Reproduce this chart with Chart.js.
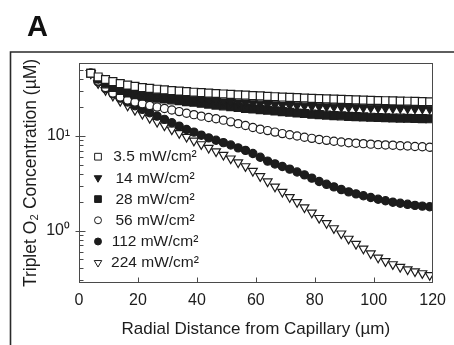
<!DOCTYPE html>
<html>
<head>
<meta charset="utf-8">
<script src="https://cdn.jsdelivr.net/npm/chart.js@4.4.0/dist/chart.umd.min.js"></script>
<style>
  html, body { margin: 0; padding: 0; background: #fff; }
  #wrap { width: 454px; height: 345px; position: relative; }
</style>
</head>
<body>
<div id="wrap"><canvas id="oxygen_profile"></canvas></div>
<script>
// Radial distance (um) of every plotted marker
const radialDistance = [4, 6.5, 9, 11.5, 14, 16.5, 19, 21.5, 24, 26.5, 29, 31.5, 34, 36.5, 39, 41.5,
  44, 46.5, 49, 51.5, 54, 56.5, 59, 61.5, 64, 66.5, 69, 71.5, 74, 76.5, 79, 81.5, 84, 86.5, 89,
  91.5, 94, 96.5, 99, 101.5, 104, 106.5, 109, 111.5, 114, 116.5, 119];

const legendLabels = ['3.5 mW/cm²', '14 mW/cm²', '28 mW/cm²', '56 mW/cm²', '112 mW/cm²', '224 mW/cm²'];

// Triplet O2 concentration (uM), one list per irradiance
const conc_3_5 = [46, 42, 39.5, 37.5, 35.8, 34.5, 33.4, 32.5, 31.8, 31.2, 30.7, 30.2, 29.8, 29.4, 29.0,
  28.7, 28.4, 28.1, 27.8, 27.5, 27.2, 27.0, 26.7, 26.5, 26.2, 26.0, 25.8, 25.6, 25.4, 25.2, 25.0,
  24.8, 24.7, 24.5, 24.4, 24.2, 24.1, 23.9, 23.8, 23.7, 23.6, 23.5, 23.4, 23.3, 23.2, 23.1, 23.0];
const conc_14 = [46, 41, 37.5, 35, 33, 31.3, 30, 28.9, 28, 27.2, 26.5, 25.9, 25.4, 24.9, 24.5,
  24.1, 23.7, 23.4, 23.1, 22.8, 22.5, 22.3, 22.1, 21.9, 21.7, 21.5, 21.3, 21.2, 21.0, 20.9, 20.7,
  20.6, 20.5, 20.4, 20.3, 20.2, 20.1, 20.0, 19.9, 19.85, 19.8, 19.7, 19.65, 19.6, 19.5, 19.45, 19.4];
const conc_28 = [46, 40, 35.5, 32.5, 30.2, 28.5, 27.3, 26.4, 25.7, 25.1, 24.6, 24.1, 23.6, 23.1, 22.7,
  22.2, 21.7, 21.2, 20.8, 20.4, 20.0, 19.6, 19.3, 19.0, 18.7, 18.4, 18.1, 17.8, 17.5, 17.3, 17.0,
  16.8, 16.6, 16.4, 16.3, 16.1, 16.0, 15.9, 15.8, 15.7, 15.6, 15.5, 15.45, 15.4, 15.3, 15.25, 15.2];
const conc_56 = [46, 38, 32.5, 28.5, 25.8, 24, 22.8, 21.9, 21.0, 20.2, 19.5, 18.8, 18.1, 17.4, 16.8,
  16.2, 15.7, 15.2, 14.7, 14.1, 13.5, 12.9, 12.3, 11.8, 11.4, 11.0, 10.6, 10.3, 10.0, 9.7, 9.45,
  9.2, 9.0, 8.8, 8.65, 8.5, 8.4, 8.3, 8.2, 8.1, 8.05, 8.0, 7.9, 7.85, 7.75, 7.7, 7.6];
const conc_112 = [46.0, 37.2, 31.6, 27.9, 25.1, 22.9, 20.9, 19.1, 17.6, 16.2, 15.0, 13.8, 12.7, 11.7, 11.0,
  10.2, 9.55, 9.02, 8.51, 8.04, 7.50, 7.05, 6.53, 5.96, 5.43, 5.07, 4.76, 4.47, 4.17, 3.89, 3.59,
  3.31, 3.09, 2.90, 2.72, 2.57, 2.45, 2.34, 2.24, 2.15, 2.07, 2.00, 1.95, 1.90, 1.85, 1.82, 1.79];
const conc_224 = [46.0, 36.0, 30.5, 26.6, 23.4, 20.9, 18.8, 17.1, 15.5, 14.1, 12.9, 11.7, 10.7, 9.77, 8.91,
  8.17, 7.50, 6.89, 6.31, 5.78, 5.27, 4.79, 4.27, 3.76, 3.31, 2.92, 2.57, 2.26, 2.00, 1.76, 1.55,
  1.36, 1.20, 1.06, 0.933, 0.822, 0.724, 0.646, 0.575, 0.519, 0.476, 0.442, 0.414, 0.391, 0.372, 0.355, 0.340];

// y axis: labelled decades and the small in-between marks
const yMajorTicks = [1, 10];
const yTickText = ['10⁰', '10¹'];
const yMinorTicks = [0.3, 0.4, 0.5, 0.6, 0.7, 0.8, 0.9, 2, 3, 4, 5, 6, 7, 8, 9, 20, 30, 40, 50];

const FONT = "'Liberation Sans', Arial, Helvetica, sans-serif";
const INK = '#1c1c1c';

function pts(ys) {
  return radialDistance.map((x, i) => ({ x: x, y: ys[i] }));
}

function series(label, ys, style, filled, radius, rotation) {
  return {
    label: label,
    data: pts(ys),
    showLine: false,
    pointStyle: style,
    pointRotation: rotation || 0,
    pointRadius: radius,
    pointBorderWidth: 1.2,
    pointBackgroundColor: filled ? INK : '#fff',
    pointBorderColor: INK
  };
}

const panelPlugin = {
  id: 'panelPlugin',
  beforeDraw(chart) {
    const ctx = chart.ctx;
    ctx.save();
    ctx.fillStyle = '#fff';
    ctx.fillRect(0, 0, chart.width, chart.height);
    // panel frame
    ctx.strokeStyle = '#2a2a2a';
    ctx.lineWidth = 1.6;
    ctx.beginPath();
    ctx.moveTo(10.5, chart.height);
    ctx.lineTo(10.5, 52);
    ctx.lineTo(chart.width, 52);
    ctx.stroke();
    // panel letter
    ctx.fillStyle = '#111';
    ctx.font = 'bold 29px ' + FONT;
    ctx.textBaseline = 'alphabetic';
    ctx.fillText('A', 27, 36);
    ctx.restore();
  },
  afterDatasetsDraw(chart) {
    const ctx = chart.ctx;
    const a = chart.chartArea;
    const xs = chart.scales.x, ys = chart.scales.y;
    ctx.save();
    ctx.strokeStyle = '#4a4a4a';
    ctx.lineWidth = 1;
    const L = Math.round(a.left) + 0.5, R = Math.round(a.right) - 0.5;
    const T = Math.round(a.top) + 0.5, B = Math.round(a.bottom) - 0.5;
    ctx.strokeRect(L, T, R - L, B - T);
    ctx.beginPath();
    yMinorTicks.forEach(v => {
      const py = Math.round(ys.getPixelForValue(v)) + 0.5;
      ctx.moveTo(L, py); ctx.lineTo(L + 4, py);
    });
    yMajorTicks.forEach(v => {
      const py = Math.round(ys.getPixelForValue(v)) + 0.5;
      ctx.moveTo(L - 4, py); ctx.lineTo(L + 6, py);
    });
    xs.ticks.forEach(t => {
      if (t.value <= xs.min || t.value >= xs.max) return;
      const px = Math.round(xs.getPixelForValue(t.value)) + 0.5;
      ctx.moveTo(px, B); ctx.lineTo(px, B - 5);
    });
    ctx.stroke();
    ctx.restore();
  },
  afterDraw(chart) {
    // legend inside the plot, lower left
    const ctx = chart.ctx;
    const a = chart.chartArea;
    const draw = Chart.helpers && Chart.helpers.drawPoint;
    ctx.save();
    ctx.font = '15.5px ' + FONT;
    ctx.textBaseline = 'middle';
    ctx.textAlign = 'center';
    chart.data.datasets.forEach((ds, i) => {
      const y = a.top + 93.7 + i * 21.2;
      const mx = a.left + 19;
      ctx.fillStyle = ds.pointBackgroundColor;
      ctx.strokeStyle = ds.pointBorderColor;
      ctx.lineWidth = 1;
      if (draw) {
        draw(ctx, { pointStyle: ds.pointStyle, rotation: ds.pointRotation, radius: ds.pointRadius * 0.85, borderWidth: 1 }, mx, y);
      }
      ctx.fillStyle = INK;
      ctx.fillText(legendLabels[i], a.left + 76, y + 0.5);
    });
    ctx.restore();
  }
};

const ctx = document.getElementById('oxygen_profile').getContext('2d');
const oxygenChart = new Chart(ctx, {
  type: 'scatter',
  data: {
    datasets: [
      series(legendLabels[0], conc_3_5, 'rect', false, 5.6),
      series(legendLabels[1], conc_14, 'triangle', true, 5.1, 180),
      series(legendLabels[2], conc_28, 'rect', true, 5.6),
      series(legendLabels[3], conc_56, 'circle', false, 4.1),
      series(legendLabels[4], conc_112, 'circle', true, 4.1),
      series(legendLabels[5], conc_224, 'triangle', false, 5.1, 180)
    ]
  },
  options: {
    responsive: true,
    maintainAspectRatio: false,
    animation: false,
    layout: { padding: { top: 63, right: 17, left: 0, bottom: 0 } },
    plugins: {
      legend: { display: false },
      tooltip: { enabled: false }
    },
    scales: {
      x: {
        type: 'linear',
        min: 0,
        max: 120,
        afterFit: function (s) { s.height = 62; },
        grid: { display: false, drawTicks: false },
        border: { display: false },
        ticks: {
          stepSize: 20,
          padding: 8,
          maxRotation: 0,
          color: INK,
          font: { family: FONT, size: 16 }
        },
        title: {
          display: true,
          text: 'Radial Distance from Capillary (µm)',
          color: INK,
          font: { family: FONT, size: 17 },
          padding: { top: 0, bottom: 5 }
        }
      },
      y: {
        type: 'logarithmic',
        min: 0.2805,
        max: 59,
        afterFit: function (s) { s.width = 79; },
        grid: { display: false, drawTicks: false },
        border: { display: false },
        ticks: {
          autoSkip: false,
          padding: 9,
          color: INK,
          font: { family: FONT, size: 16 },
          callback: function (v) {
            for (let i = 0; i < yMajorTicks.length; i++) {
              if (Math.abs(v - yMajorTicks[i]) < 1e-9) return yTickText[i];
            }
            return '';
          }
        },
        title: {
          display: true,
          text: 'Triplet O₂ Concentration (µM)',
          color: INK,
          font: { family: FONT, size: 17.5 },
          padding: { top: 21, bottom: 0 }
        }
      }
    }
  },
  plugins: [panelPlugin]
});
</script>
</body>
</html>
